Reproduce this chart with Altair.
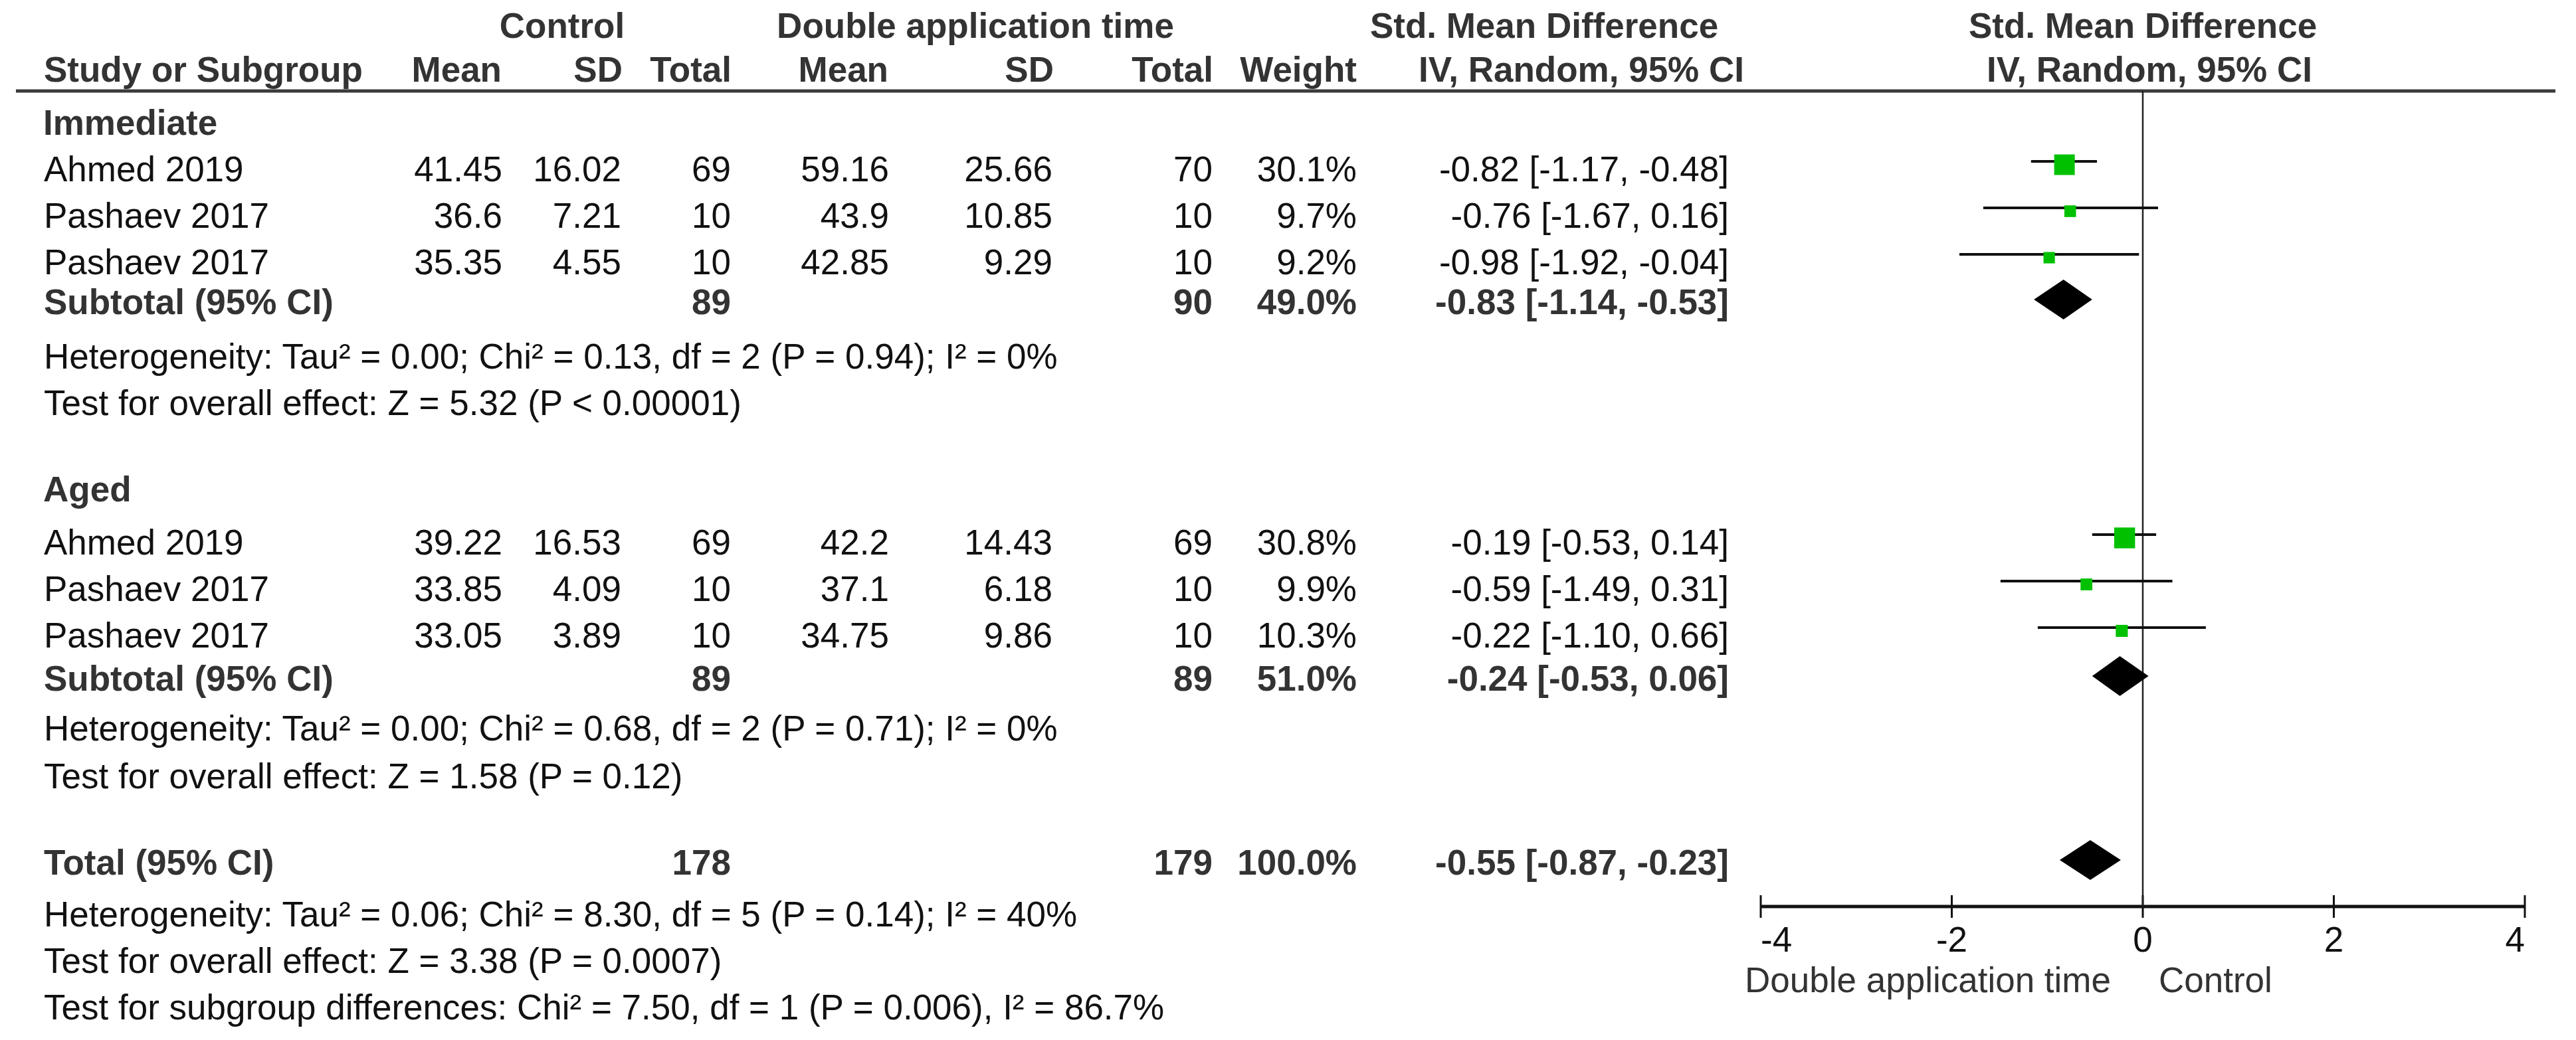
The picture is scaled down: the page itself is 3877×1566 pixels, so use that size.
import altair as alt
import pandas as pd

# ------------------------------------------------------------------ data
group_names = ["Immediate", "Aged"]
study_names = ["Ahmed 2019", "Pashaev 2017", "Pashaev 2017",
               "Ahmed 2019", "Pashaev 2017", "Pashaev 2017"]
study_group = ["Immediate", "Immediate", "Immediate", "Aged", "Aged", "Aged"]
ctrl_mean = [41.45, 36.6, 35.35, 39.22, 33.85, 33.05]
ctrl_sd = [16.02, 7.21, 4.55, 16.53, 4.09, 3.89]
ctrl_total = [69, 10, 10, 69, 10, 10]
dbl_mean = [59.16, 43.9, 42.85, 42.2, 37.1, 34.75]
dbl_sd = [25.66, 10.85, 9.29, 14.43, 6.18, 9.86]
dbl_total = [70, 10, 10, 69, 10, 10]
weight = [30.1, 9.7, 9.2, 30.8, 9.9, 10.3]
smd = [-0.82, -0.76, -0.98, -0.19, -0.59, -0.22]
ci_low = [-1.17, -1.67, -1.92, -0.53, -1.49, -1.10]
ci_high = [-0.48, 0.16, -0.04, 0.14, 0.31, 0.66]

pooled_labels = ["Subtotal (95% CI)", "Subtotal (95% CI)", "Total (95% CI)"]
pooled_ctrl_total = [89, 89, 178]
pooled_dbl_total = [90, 89, 179]
pooled_weight = [49.0, 51.0, 100.0]
pooled_smd = [-0.83, -0.24, -0.55]
pooled_low = [-1.14, -0.53, -0.87]
pooled_high = [-0.53, 0.06, -0.23]

heterogeneity = [
    "Heterogeneity: Tau² = 0.00; Chi² = 0.13, df = 2 (P = 0.94); I² = 0%",
    "Heterogeneity: Tau² = 0.00; Chi² = 0.68, df = 2 (P = 0.71); I² = 0%",
    "Heterogeneity: Tau² = 0.06; Chi² = 8.30, df = 5 (P = 0.14); I² = 40%",
]
overall_effect = [
    "Test for overall effect: Z = 5.32 (P < 0.00001)",
    "Test for overall effect: Z = 1.58 (P = 0.12)",
    "Test for overall effect: Z = 3.38 (P = 0.0007)",
]
subgroup_test = ["Test for subgroup differences: Chi² = 7.50, df = 1 (P = 0.006), I² = 86.7%"]

axis_ticks = [-4, -2, 0, 2, 4]
favours = ["Double application time", "Control"]
header_top = ["Control", "Double application time", "Std. Mean Difference", "Std. Mean Difference"]
header_cols = ["Study or Subgroup", "Mean", "SD", "Total", "Mean", "SD", "Total",
               "Weight", "IV, Random, 95% CI", "IV, Random, 95% CI"]

# ------------------------------------------------------------------ layout (row slots / column pixels)
PAD_TOP = 12
W, H = 3861, 1550 - PAD_TOP
ROW_PX = 70.0
Y0 = 53.0 - 8 - PAD_TOP
FONT = "Liberation Sans"
FS = 53
C_TXT = "#111111"
C_BOLD = "#333333"

study_slots = [3.143, 4.143, 5.143, 11.171, 12.171, 13.171]
group_slots = [2.143, 10.029]
pooled_slots = [6.0, 14.1, 18.057]
het_slots = [7.171, 15.171, 19.171]
overall_slots = [8.171, 16.2, 20.171]
subgroup_slots = [21.171]
HEAD1, HEAD2, HEADLINE = 0.05, 1.0, 1.2
AXIS_SLOT, LABEL_SLOT, FAV_SLOT = 18.743, 19.714, 20.586
TICK_HALF = 17 / ROW_PX
DIAMOND_HALF = 30.0 / ROW_PX     # half height of a diamond
DIAMOND_LIFT = 22.0 / ROW_PX     # diamond centre sits above the text baseline

yscale = alt.Scale(domain=[-Y0 / ROW_PX, (H - Y0) / ROW_PX], range=[0, H], nice=False, zero=False)
xscale = alt.Scale(domain=[-4, 4], range=[2642, 3792], nice=False, zero=False)

col_x = {"name": 58, "cm": 748, "csd": 927, "cn": 1092, "dm": 1330, "dsd": 1576,
         "dn": 1817, "w": 2034, "ci": 2594}

# ------------------------------------------------------------------ tables
def ci_text(e, l, h):
    return f"{e:.2f} [{l:.2f}, {h:.2f}]"

studies = pd.DataFrame({
    "name": study_names, "group": study_group,
    "cm": [str(v) for v in ctrl_mean], "csd": [str(v) for v in ctrl_sd],
    "cn": [str(v) for v in ctrl_total],
    "dm": [str(v) for v in dbl_mean], "dsd": [str(v) for v in dbl_sd],
    "dn": [str(v) for v in dbl_total],
    "w": [f"{v:.1f}%" for v in weight], "wv": weight,
    "ci": [ci_text(e, l, h) for e, l, h in zip(smd, ci_low, ci_high)],
    "smd": smd, "lo": ci_low, "hi": ci_high, "slot": study_slots,
})
pooled = pd.DataFrame({
    "name": pooled_labels,
    "cn": [str(v) for v in pooled_ctrl_total], "dn": [str(v) for v in pooled_dbl_total],
    "w": [f"{v:.1f}%" for v in pooled_weight],
    "ci": [ci_text(e, l, h) for e, l, h in zip(pooled_smd, pooled_low, pooled_high)],
    "slot": pooled_slots,
})
groups = pd.DataFrame({"name": group_names, "slot": group_slots})
notes = pd.DataFrame({"name": heterogeneity + overall_effect + subgroup_test,
                      "slot": het_slots + overall_slots + subgroup_slots})

diamond_rows = []
for i, (e, l, h, s) in enumerate(zip(pooled_smd, pooled_low, pooled_high, pooled_slots)):
    c = s - DIAMOND_LIFT
    diamond_rows += [
        {"id": i, "dx": l, "ya": c, "yb": c},
        {"id": i, "dx": e, "ya": c - DIAMOND_HALF, "yb": c + DIAMOND_HALF},
        {"id": i, "dx": h, "ya": c, "yb": c},
    ]
diamonds = pd.DataFrame(diamond_rows)
ticks = pd.DataFrame({"t": axis_ticks, "label": [str(t) for t in axis_ticks],
                      "slot": [LABEL_SLOT] * len(axis_ticks)})


def text_layer(df, field, x, align, bold=False, color=None):
    return alt.Chart(df).mark_text(
        align=align, baseline="alphabetic", font=FONT, fontSize=FS,
        fontWeight="bold" if bold else "normal",
        color=color or (C_BOLD if bold else C_TXT),
    ).encode(
        x=alt.value(x),
        y=alt.Y("slot:Q", scale=yscale, axis=None),
        text=alt.Text(f"{field}:N"),
    )


def single_text(label, slot, x, align, bold=True, color=None):
    df = pd.DataFrame({"name": [label], "slot": [slot]})
    return text_layer(df, "name", x, align, bold, color)


layers = []

# axis line, cross ticks and tick labels
layers.append(
    alt.Chart(ticks.head(1)).mark_rule(color="#111111", strokeWidth=5).encode(
        x=alt.XDatum(axis_ticks[0], scale=xscale, axis=None),
        x2=alt.X2Datum(axis_ticks[-1]),
        y=alt.YDatum(AXIS_SLOT, scale=yscale, axis=None),
    )
)
layers.append(
    alt.Chart(ticks).mark_rule(color="#111111", strokeWidth=3).encode(
        x=alt.X("t:Q", scale=xscale, axis=None),
        y=alt.YDatum(AXIS_SLOT - TICK_HALF, scale=yscale, axis=None),
        y2=alt.Y2Datum(AXIS_SLOT + TICK_HALF),
    )
)
for cond, al in [(f"datum.t == {axis_ticks[0]}", "left"),
                 (f"datum.t > {axis_ticks[0]} && datum.t < {axis_ticks[-1]}", "center"),
                 (f"datum.t == {axis_ticks[-1]}", "right")]:
    layers.append(
        alt.Chart(ticks).transform_filter(cond).mark_text(
            align=al, baseline="alphabetic", font=FONT, fontSize=FS, color="#111111"
        ).encode(
            x=alt.X("t:Q", scale=xscale, axis=None),
            y=alt.Y("slot:Q", scale=yscale, axis=None),
            text=alt.Text("label:N"),
        )
    )

# header separator line
layers.append(
    alt.Chart(ticks.head(1)).mark_rule(color="#3a3a3a", strokeWidth=5).encode(
        x=alt.value(16), x2=alt.value(3838),
        y=alt.YDatum(HEADLINE, scale=yscale, axis=None),
    )
)

# zero line
layers.append(
    alt.Chart(ticks.head(1)).mark_rule(color="#222222", strokeWidth=2.5).encode(
        x=alt.XDatum(0, scale=xscale, axis=None),
        y=alt.YDatum(HEADLINE, scale=yscale, axis=None),
        y2=alt.Y2Datum(AXIS_SLOT),
    )
)

# CI lines
layers.append(
    alt.Chart(studies).mark_rule(color="#111111", strokeWidth=4, yOffset=-30).encode(
        x=alt.X("lo:Q", scale=xscale, axis=None),
        x2=alt.X2("hi:Q"),
        y=alt.Y("slot:Q", scale=yscale, axis=None),
    )
)

# weight squares
layers.append(
    alt.Chart(studies).mark_square(filled=True, color="#00C000", opacity=1, yOffset=-25).encode(
        x=alt.X("smd:Q", scale=xscale, axis=None),
        y=alt.Y("slot:Q", scale=yscale, axis=None),
        size=alt.Size("wv:Q", scale=alt.Scale(domain=[0, 30.1], range=[0, 961], zero=True), legend=None),
    )
)

# diamonds
layers.append(
    alt.Chart(diamonds).mark_area(color="#000000", orient="vertical", interpolate="linear",
                                  opacity=1).encode(
        x=alt.X("dx:Q", scale=xscale, axis=None),
        y=alt.Y("ya:Q", scale=yscale, axis=None, stack=None),
        y2=alt.Y2("yb:Q"),
        detail="id:N",
    )
)

# headers
top_x = [838, 1460, 2316, 3217]
for label, x in zip(header_top, top_x):
    layers.append(single_text(label, HEAD1, x, "center"))
col_pos = [(58, "left"), (747, "right"), (929, "right"), (1093, "right"), (1329, "right"),
           (1578, "right"), (1818, "right"), (2034, "right"), (2372, "center"), (3227, "center")]
for label, (x, al) in zip(header_cols, col_pos):
    layers.append(single_text(label, HEAD2, x, al))

# group headings
layers.append(text_layer(groups, "name", 57, "left", bold=True))

# study rows
layers.append(text_layer(studies, "name", col_x["name"], "left"))
for f in ["cm", "csd", "cn", "dm", "dsd", "dn", "w", "ci"]:
    layers.append(text_layer(studies, f, col_x[f], "right"))

# pooled rows
layers.append(text_layer(pooled, "name", col_x["name"], "left", bold=True))
for f in ["cn", "dn", "w", "ci"]:
    layers.append(text_layer(pooled, f, col_x[f], "right", bold=True))

# notes
layers.append(text_layer(notes, "name", col_x["name"], "left"))

# favours labels
layers.append(single_text(favours[0], FAV_SLOT, 3169, "right", bold=False, color="#333333"))
layers.append(single_text(favours[1], FAV_SLOT, 3241, "left", bold=False, color="#333333"))

chart = alt.layer(*layers).properties(
    width=W, height=H,
    padding={"left": 0, "top": PAD_TOP, "right": 0, "bottom": 0},
    autosize=alt.AutoSizeParams(type="none"),
    background="white",
).configure_view(stroke=None)

chart.save("out.html", embed_options={"renderer": "svg", "actions": False})
